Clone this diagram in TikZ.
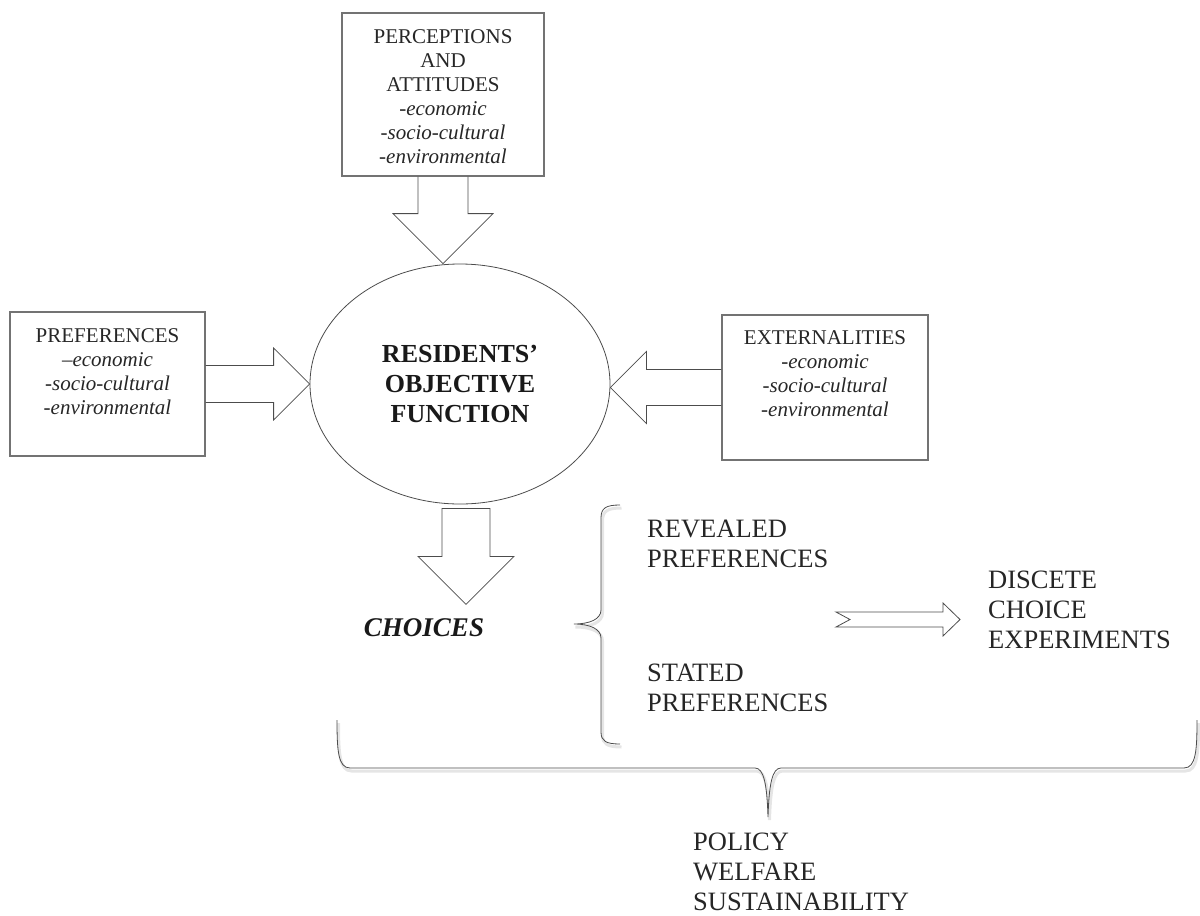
\documentclass[tikz,border=0pt]{standalone}
\usepackage{fontspec}
\setmainfont{Liberation Serif}
\usetikzlibrary{positioning, shapes.geometric}

\begin{document}
\begin{tikzpicture}[x=1pt, y=-1pt,
	box/.style={draw=black!55, line width=1.2pt, inner sep=0pt},
	boxtext/.style={inner sep=0pt, align=center, text=black!85, font=\fontsize{21}{24}\selectfont},
	listtext/.style={inner sep=0pt, align=left, anchor=north west, text=black!85, font=\fontsize{26.5}{30}\selectfont},
	blockarrow/.style={draw=black!70, line width=0.8pt, line join=miter},
	bracket/.style={draw=black!70, line width=0.8pt,
		preaction={draw=black!10, line width=3pt, transform canvas={xshift=1.5pt, yshift=-3pt}}}]
	\useasboundingbox (0,0) rectangle (1200,916);

	% the three boxes round the objective function
	\node[box, minimum width=202pt, minimum height=163pt] (perc) at (443,94.5) {};
	\node[box, minimum width=195pt, minimum height=144pt] (pref) at (107.5,384) {};
	\node[box, minimum width=206pt, minimum height=145pt] (ext)  at (825,387.5) {};

	\node[boxtext, below=17pt of perc.north] (perctext) {PERCEPTIONS\\AND\\ATTITUDES\\\textit{-economic}\\\textit{-socio-cultural}\\\textit{-environmental}};
	\node[boxtext, below=17pt of pref.north] (preftext) {PREFERENCES\\\textit{–economic}\\\textit{-socio-cultural}\\\textit{-environmental}};
	\node[boxtext, below=16pt of ext.north]  (exttext)  {EXTERNALITIES\\\textit{-economic}\\\textit{-socio-cultural}\\\textit{-environmental}};

	\node[ellipse, draw=black!70, line width=0.8pt, minimum width=300pt, minimum height=240pt, inner sep=0pt,
		align=center, text=black!90, font=\fontsize{26}{30}\selectfont\bfseries] (obj) at (460,384) {RESIDENTS’\\OBJECTIVE\\FUNCTION};

	\coordinate (ptip)  at (perc.south |- obj.north);
	\coordinate (etip)  at (obj.east |- ext.west);
	\coordinate (ctail) at ([xshift=6pt, yshift=-4pt]obj.south);
	\coordinate (ctip)  at ([yshift=-96pt]ctail);

	% block arrows into and out of the ellipse
	\draw[blockarrow] ([xshift=-25pt]perc.south) -- ([xshift=-25pt, yshift=50pt]ptip) -- ([xshift=-50pt, yshift=50pt]ptip)
		-- (ptip) -- ([xshift=50pt, yshift=50pt]ptip) -- ([xshift=25pt, yshift=50pt]ptip) -- ([xshift=25pt]perc.south);
	\draw[blockarrow] ([yshift=18.5pt]pref.east) -- ([xshift=-36pt, yshift=18.5pt]obj.west) -- ([xshift=-36pt, yshift=36pt]obj.west)
		-- (obj.west) -- ([xshift=-36pt, yshift=-36pt]obj.west) -- ([xshift=-36pt, yshift=-18.5pt]obj.west) -- ([yshift=-18.5pt]pref.east);
	\draw[blockarrow] ([yshift=18pt]ext.west) -- ([xshift=36pt, yshift=18pt]etip) -- ([xshift=36pt, yshift=36pt]etip)
		-- (etip) -- ([xshift=36pt, yshift=-36pt]etip) -- ([xshift=36pt, yshift=-18pt]etip) -- ([yshift=-18pt]ext.west);
	\draw[blockarrow] ([xshift=-24pt]ctail) -- ([xshift=-24pt, yshift=48pt]ctip) -- ([xshift=-48pt, yshift=48pt]ctip)
		-- (ctip) -- ([xshift=48pt, yshift=48pt]ctip) -- ([xshift=24pt, yshift=48pt]ctip) -- ([xshift=24pt]ctail) -- cycle;

	\node[inner sep=0pt, text=black!90, font=\fontsize{27}{30}\selectfont\bfseries\itshape] (choices) at (424,628) {CHOICES};

	% the kinds of preferences
	\draw[bracket] (620,505) .. controls (606,505) and (601,508) .. (601,518) -- (601,610)
		.. controls (601,619) and (590,624) .. (574,624) .. controls (590,624) and (601,629) .. (601,638)
		-- (601,732) .. controls (601,741) and (606,744) .. (620,744);
	\node[listtext] (revealed) at (647,520) {REVEALED\\PREFERENCES};
	\node[listtext] (stated)   at (647,664) {STATED\\PREFERENCES};
	\node[listtext] (dce)      at (988,571) {DISCETE\\CHOICE\\EXPERIMENTS};

	\coordinate (dtip) at (960,619.5);
	\draw[blockarrow] (dtip) -- ++(-17,-16.5) -- ++(0,9) -- ++(-107,0) -- ++(14,7.5) -- ++(-14,7.5)
		-- ++(107,0) -- ++(0,9) -- cycle;

	% what it all leads to
	\draw[bracket] (337,720) .. controls (337,750) and (338,768) .. (350,768) -- (755,768)
		.. controls (764,768) and (767,785) .. (768,817) .. controls (769,785) and (772,768) .. (781,768)
		-- (1184,768) .. controls (1196,768) and (1197,750) .. (1197,720);
	\node[listtext] (policy) at (693,833) {POLICY\\WELFARE\\SUSTAINABILITY};
\end{tikzpicture}
\end{document}
